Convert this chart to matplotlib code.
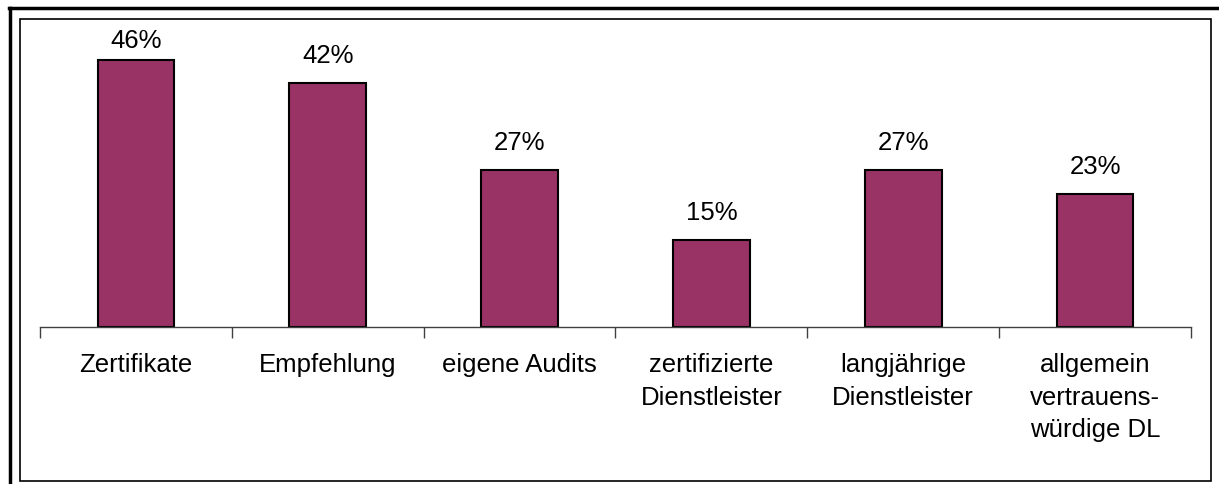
import matplotlib.pyplot as plt
from matplotlib.lines import Line2D
from matplotlib.patches import Rectangle
import numpy as np

plt.rcParams['font.family'] = ['Liberation Sans', 'DejaVu Sans']

categories = ['Zertifikate', 'Empfehlung', 'eigene Audits',
              'zertifizierte\nDienstleister', 'langjährige\nDienstleister',
              'allgemein\nvertrauens-\nwürdige DL']
values = [46, 42, 27, 15, 27, 23]
labels = ['46%', '42%', '27%', '15%', '27%', '23%']

W, H = 1219, 484
fig = plt.figure(figsize=(W / 100, H / 100), dpi=100)

# axes placed in pixel terms
x0, x1, ybot, ytop = 40, 1191, 327, 29
ax = fig.add_axes([x0 / W, 1 - ybot / H, (x1 - x0) / W, (ybot - ytop) / H])

pxper = 5.8
ymax = (ybot - ytop) / pxper
x = np.arange(len(values))
ax.bar(x, values, width=0.4, color='#993366', edgecolor='black', linewidth=1.5, zorder=2)

fs = 18.5
for xi, v, lab in zip(x, values, labels):
    yt = min(v + 20 / pxper, ymax - 19 / pxper)
    ax.text(xi, yt, lab, ha='center', va='baseline', fontsize=fs)

ax.set_xlim(-0.5, len(values) - 0.5)
ax.set_ylim(0, ymax)
for s in ['top', 'right', 'left']:
    ax.spines[s].set_visible(False)
ax.spines['bottom'].set_color('#404040')
ax.spines['bottom'].set_linewidth(1)
ax.set_yticks([])

ax.set_xticks(np.arange(-0.5, len(values), 1.0))
ax.set_xticklabels([])
ax.tick_params(axis='x', which='major', length=8, color='#404040', width=1, direction='out')
ax.set_xticks(x, minor=True)
ax.set_xticklabels(categories, minor=True, fontsize=fs, linespacing=1.45)
ax.tick_params(axis='x', which='minor', length=0, pad=19)

# chart borders
fig.add_artist(Rectangle((20 / W, 1 - 481 / H), (1211 - 20) / W, (481 - 19) / H,
                         transform=fig.transFigure, fill=False, edgecolor='black', linewidth=1.2))
fig.add_artist(Line2D([9 / W, 1], [1 - 8 / H, 1 - 8 / H], transform=fig.transFigure,
                      color='black', linewidth=2.5))
fig.add_artist(Line2D([10 / W, 10 / W], [0, 1 - 8 / H], transform=fig.transFigure,
                      color='black', linewidth=2.5))

fig.savefig('out.png', dpi=100)
